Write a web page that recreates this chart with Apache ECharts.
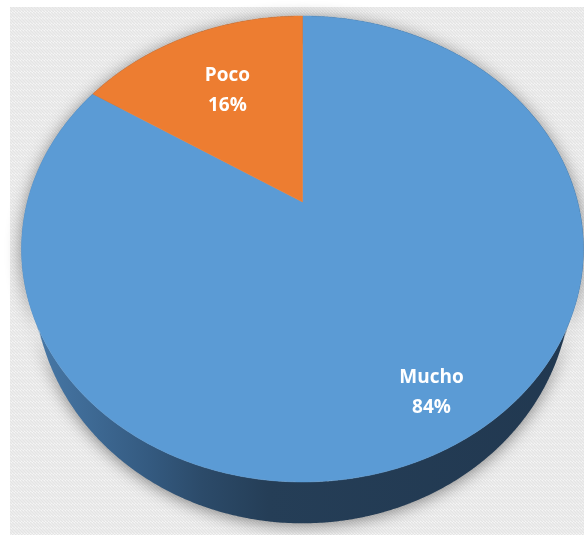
<!DOCTYPE html>
<html>
<head>
<meta charset="utf-8">
<script src="https://cdn.jsdelivr.net/npm/echarts@6/dist/echarts.min.js"></script>
<style>
html,body{margin:0;padding:0;background:#fff;}
#chart{width:584px;height:535px;}
</style>
</head>
<body>
<div id="chart"></div>
<script>
// ---- data ----
const categories = ['Mucho', 'Poco'];
const values = [84, 16];
const colors = ['#5b9bd5', '#ed7d31'];

// ---- geometry (layout only) ----
const G = { cx: 302.5, cy: 202, A: 275.2, B: 223.5, k: 0.2017, depth: 33, bottomScale: 0.955 };
const labelRadius = [0.83, 0.63];

const total = values.reduce((a, b) => a + b, 0);
function proj(phi, r, dy, sx) {
  const u = r * Math.sin(phi), v = -r * Math.cos(phi);
  const w = 1 - G.k * v;
  return [G.cx + (sx || 1) * G.A * u / w, G.cy + (G.B * v + dy) / w];
}
function sliceAngles(i) {
  let s = 0;
  for (let j = 0; j < i; j++) s += values[j];
  return [s / total * Math.PI * 2, (s + values[i]) / total * Math.PI * 2];
}

// background pattern
const pc = document.createElement('canvas');
pc.width = 6; pc.height = 6;
const ctx = pc.getContext('2d');
ctx.fillStyle = '#fdfdfd'; ctx.fillRect(0, 0, 6, 6);
ctx.strokeStyle = '#e4e4e4'; ctx.lineWidth = 1.6;
ctx.beginPath();
for (let o = -6; o <= 12; o += 3) { ctx.moveTo(o, 0); ctx.lineTo(o + 6, 6); }
ctx.stroke();

const chart = echarts.init(document.getElementById('chart'), null, { renderer: 'canvas' });
const seriesData = categories.map((c, i) => ({ name: c, value: values[i] }));

const sideGradient = new echarts.graphic.LinearGradient(20, 0, 584, 0, [
  { offset: 0, color: '#4a7cac' },
  { offset: 0.23, color: '#345a80' },
  { offset: 0.32, color: '#2c4b6a' },
  { offset: 0.44, color: '#253e57' },
  { offset: 1, color: '#213850' }
], true);

chart.setOption({
  animation: false,
  graphic: [{
    type: 'rect', z: -10, silent: true,
    shape: { x: 10, y: 7, width: 574, height: 528 },
    style: { fill: { image: pc, repeat: 'repeat' } }
  }],
  series: [
    {
      type: 'custom', coordinateSystem: 'none', z: 1, silent: true,
      data: seriesData,
      renderItem: function (params, api) {
        const [a1, a2] = sliceAngles(params.dataIndex);
        const step = Math.PI / 360;
        let d = '';
        for (let a = a1; a < a2 - 1e-9; a += step) {
          const b = Math.min(a + step * 1.2, a2);
          const p1 = proj(a, 1, 0), p2 = proj(b, 1, 0),
                p3 = proj(b, 1, G.depth, G.bottomScale), p4 = proj(a, 1, G.depth, G.bottomScale);
          d += 'M' + p1[0] + ' ' + p1[1] + 'L' + p2[0] + ' ' + p2[1] + 'L' + p3[0] + ' ' + p3[1] + 'L' + p4[0] + ' ' + p4[1] + 'Z';
        }
        return {
          type: 'path',
          shape: { pathData: d },
          style: { fill: sideGradient, shadowBlur: 16, shadowColor: 'rgba(0,0,0,0.45)', shadowOffsetY: 2 }
        };
      }
    },
    {
      type: 'custom', coordinateSystem: 'none', z: 2, silent: true,
      data: seriesData,
      renderItem: function (params, api) {
        const i = params.dataIndex;
        const [a1, a2] = sliceAngles(i);
        const pts = [proj(0, 0, 0)];
        const n = Math.max(8, Math.ceil((a2 - a1) / (Math.PI / 360)));
        for (let s = 0; s <= n; s++) pts.push(proj(a1 + (a2 - a1) * s / n, 1, 0));
        const mid = (a1 + a2) / 2;
        const lp = proj(mid, labelRadius[i], 0);
        const pct = Math.round(api.value(0) / total * 100);
        return {
          type: 'group',
          children: [
            { type: 'polygon', shape: { points: pts }, style: { fill: colors[i], stroke: colors[i], lineWidth: 0.5 } },
            {
              type: 'text', x: lp[0], y: lp[1], z2: 10,
              style: {
                text: categories[i] + '\n' + pct + '%',
                fill: '#ffffff', font: 'bold 19px "Open Sans", sans-serif',
                lineHeight: 30, align: 'center', verticalAlign: 'middle'
              }
            }
          ]
        };
      }
    }
  ]
});
</script>
</body>
</html>
